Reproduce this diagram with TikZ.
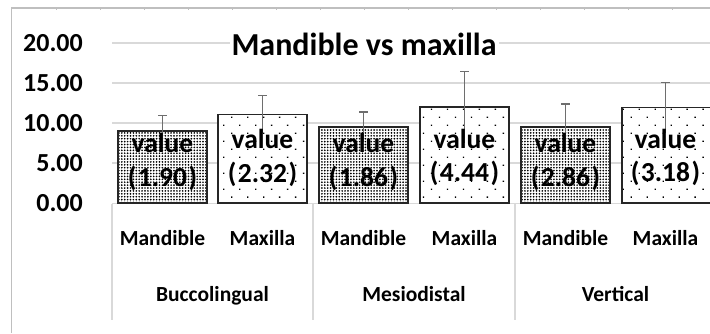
\documentclass[tikz,border=0pt]{standalone}
\usepackage{fontspec}
\setmainfont{Carlito}[BoldFont={Carlito Bold}]
\usetikzlibrary{patterns.meta}
\definecolor{gridc}{HTML}{D9D9D9}
\definecolor{framec}{HTML}{BFBFBF}
\definecolor{errc}{HTML}{6E6E6E}
\tikzset{
  gridline/.style={draw=gridc, line width=1.2pt},
  barbox/.style={draw=black!85, line width=1.2pt},
  densebar/.style={barbox, pattern={Dots[distance=2.9pt, radius=0.95pt]}},
  sparsebar/.style={barbox, pattern={Dots[distance=11.3pt, radius=0.95pt, angle=45]}},
  errbar/.style={draw=errc, line width=1.3pt},
  ticklab/.style={anchor=base east, inner sep=0pt, font=\fontsize{26}{26}\selectfont\bfseries},
  catlab/.style={anchor=base, inner sep=0pt, font=\fontsize{21.5}{21.5}\selectfont\bfseries},
  vallab/.style={anchor=base, inner sep=0pt, font=\fontsize{27.5}{27.5}\selectfont\bfseries},
}
\newcommand{\pv}[1]{(\kern1.5pt#1\kern1.5pt)}
\begin{document}
\begin{tikzpicture}[x=1pt, y=-1pt]
\useasboundingbox (0,0) rectangle (710,333);
% frame
\draw[draw=framec, line width=1.5pt] (11.5,333) -- (11.5,8) -- (712,8);
\foreach \t in {56.5,100.5,...,700} \draw[draw=framec, line width=0.8pt] (\t,8) -- (\t,10);
% gridlines
\foreach \g in {43,83,123,163} \draw[gridline] (112,\g) -- (712,\g);
% category axis
\draw[gridline] (112,203.5) -- (712,203.5);
\foreach \s in {112,313,515} \draw[gridline] (\s,203.5) -- (\s,320);
% tick labels
\node[ticklab] (t20) at (83,51) {20.00};
\node[ticklab] (t15) at (83,91) {15.00};
\node[ticklab] (t10) at (83,131) {10.00};
\node[ticklab] (t5) at (83,171) {5.00};
\node[ticklab] (t0) at (83,211) {0.00};
% bars: x-left, top
\foreach \xl/\tp/\st in {118/131/densebar, 218/114.2/sparsebar, 319/127/densebar, 420/107/sparsebar, 521/127/densebar, 622/107.8/sparsebar}{
  \fill[white] (\xl,\tp) rectangle ++(89,203-\tp);
  \path[\st] (\xl,\tp) rectangle ++(89,203-\tp);
}
% error bars: centre, top, bottom
\foreach \c/\hi/\lo in {162.5/115.8/146.2, 262.5/95.6/132.8, 363.5/112.1/141.9, 464.5/71.5/142.5, 565.5/104.1/149.9, 665.5/82.4/133.2}{
  \draw[errbar] (\c,\lo) -- (\c,\hi);
  \draw[errbar] (\c-4.5,\hi) -- (\c+4.5,\hi);
}
% title
\node[fill=white, inner sep=2pt, anchor=base, font=\fontsize{32}{32}\selectfont\bfseries] (title) at (364,55) {Mandible vs maxilla};
% value labels
\node[vallab] (v1a) at (162.5,152) {value};
\node[vallab] (v1b) at (162.5,186) {\pv{1.90}};
\node[vallab] (v2a) at (262.5,148) {value};
\node[vallab] (v2b) at (262.5,182) {\pv{2.32}};
\node[vallab] (v3a) at (363.5,152) {value};
\node[vallab] (v3b) at (363.5,186) {\pv{1.86}};
\node[vallab] (v4a) at (464.5,148) {value};
\node[vallab] (v4b) at (464.5,181) {\pv{4.44}};
\node[vallab] (v5a) at (565.5,152) {value};
\node[vallab] (v5b) at (565.5,186) {\pv{2.86}};
\node[vallab] (v6a) at (665.5,148) {value};
\node[vallab] (v6b) at (665.5,181) {\pv{3.18}};
% category labels
\node[catlab] (c1) at (162.5,245.5) {Mandible};
\node[catlab] (c2) at (262.5,245.5) {Maxilla};
\node[catlab] (c3) at (363.5,245.5) {Mandible};
\node[catlab] (c4) at (464.5,245.5) {Maxilla};
\node[catlab] (c5) at (565.5,245.5) {Mandible};
\node[catlab] (c6) at (665.5,245.5) {Maxilla};
\node[catlab] (g1) at (212.5,301) {Buccolingual};
\node[catlab] (g2) at (414,301) {Mesiodistal};
\node[catlab] (g3) at (615.5,301) {Vertical};
\end{tikzpicture}
\end{document}
